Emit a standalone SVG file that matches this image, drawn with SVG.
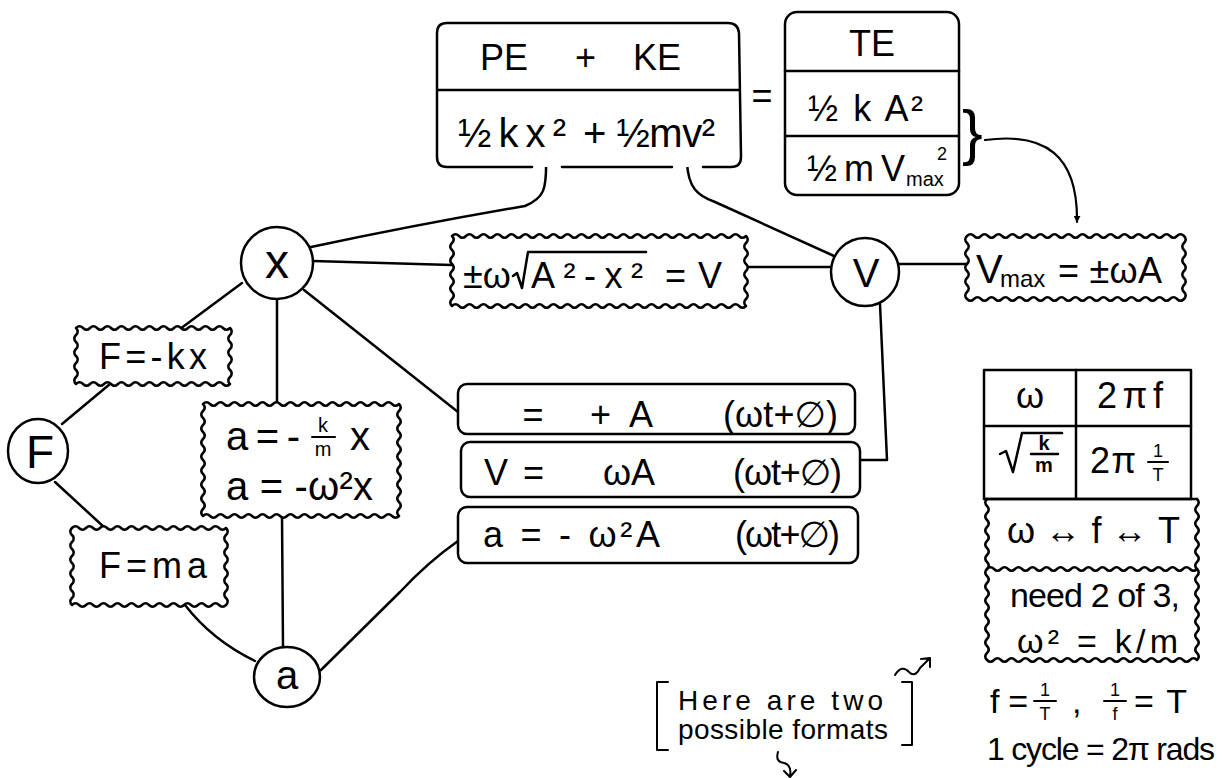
<svg xmlns="http://www.w3.org/2000/svg" width="1222" height="778" viewBox="0 0 1222 778">
<style>
.s{fill:none;stroke:#000;stroke-width:2.5;stroke-linecap:round;stroke-linejoin:round}
.b{fill:#fff;stroke:#000;stroke-width:2.5;stroke-linejoin:round}
text{font-family:"Liberation Sans","DejaVu Sans",sans-serif;fill:#000}
.f36{font-size:36px}.f40{font-size:40px}.f34{font-size:34px}.f20{font-size:20px}.f18{font-size:18px}.f24{font-size:24px}.f28{font-size:28px}
.m{text-anchor:middle}
</style>
<defs>
<marker id="arr" viewBox="0 0 10 10" refX="9" refY="5" markerWidth="7" markerHeight="7" orient="auto" markerUnits="userSpaceOnUse">
<path d="M0,0 L10,5 L0,10 z" fill="#000"/>
</marker>
</defs>
<rect width="1222" height="778" fill="#fff"/>

<g id="connectors" class="s">
<path d="M546,157 C547,190 544,198 525,206 Q420,224 311,247"/>
<path d="M687,162 C688,188 698,196 715,202 L834,256"/>
<path d="M313,261 L452,265"/>
<path d="M746,267 L832,267"/>
<path d="M898,264 L967,264"/>
<path d="M880,304 L887,460 L861,460"/>
<path d="M242,283 L180,329"/>
<path d="M110,384 L62,424"/>
<path d="M277,299 L277,404"/>
<path d="M304,290 L458,412"/>
<path d="M55,482 L105,528"/>
<path d="M185,605 Q212,640 255,661"/>
<path d="M282,516 L283,647"/>
<path d="M321,670 L400,592 Q428,562 458,541"/>
<path d="M985,140 C1045,132 1078,155 1077,222" marker-end="url(#arr)" style="stroke-width:2.2"/>
</g>

<g id="node-energy">
<rect x="437" y="23" width="303" height="144" rx="10" fill="#fff"/>
<path class="s" d="M532,167 L447,167 Q437,167 437,157 L437,33 Q437,23 447,23 L728,23 Q738,23 739,33 L741,157 Q741,167 731,167 L703,167 M562,167 L672,167 M437,90 L740,90"/>
<text class="f36"><tspan x="480" y="70">PE</tspan><tspan x="575" y="70">+</tspan><tspan x="633" y="70">KE</tspan></text>
<text class="f40" x="458" y="147" textLength="108" lengthAdjust="spacing">½kx²</text>
<text class="f40" x="583" y="147" textLength="132" lengthAdjust="spacing">+ ½mv²</text>
</g>

<text id="equals" class="f36 m" x="762" y="108">=</text>

<g id="node-te">
<rect class="b" x="785" y="12" width="174" height="183" rx="12"/>
<path class="s" d="M785,71 L959,71 M785,136 L959,136"/>
<text class="f36 m" x="872" y="56">TE</text>
<text class="f36" x="808" y="121" textLength="115" lengthAdjust="spacing">½ k A²</text>
<text class="f36" x="807" y="181" textLength="98" lengthAdjust="spacing">½ m V</text>
<text class="f20" x="906" y="186">max</text>
<text class="f18" x="937" y="160">2</text>
<text x="962" y="153" style="font-size:62px">}</text>
</g>

<g id="node-x">
<circle class="b" cx="277" cy="263" r="36"/>
<text class="m" x="277" y="278" style="font-size:48px">x</text>
</g>

<g id="node-v">
<circle class="b" cx="865" cy="272" r="34"/>
<text class="f40 m" x="866" y="287">V</text>
</g>

<g id="node-f">
<ellipse class="b" cx="38" cy="451" rx="30" ry="32"/>
<text class="m" x="40" y="468" style="font-size:46px">F</text>
</g>

<g id="node-a">
<ellipse class="b" cx="287" cy="677" rx="33" ry="30"/>
<text class="f40 m" x="287" y="689">a</text>
</g>

<g id="node-vel-eq">
<path class="b" d="M452,236 q3.5,-3.5 7,0 t
7,0 7,0 7,0 7,0 7,0 7,0 7,0 7,0 7,0 7,0
7,0 7,0 7,0 7,0 7,0 7,0 7,0 7,0 7,0 7,0
7,0 7,0 7,0 7,0 7,0 7,0 7,0 7,0 7,0 7,0
7,0 7,0 7,0 7,0 7,0 7,0 7,0 7,0 7,0 7,0
7,0
q3.5,3.5 0,7 t 0,7 0,7 0,7 0,7 0,7 0,7 0,7 0,7 0,7
q-3.5,3.5 -7,0 t
-7,0 -7,0 -7,0 -7,0 -7,0 -7,0 -7,0 -7,0 -7,0 -7,0
-7,0 -7,0 -7,0 -7,0 -7,0 -7,0 -7,0 -7,0 -7,0 -7,0
-7,0 -7,0 -7,0 -7,0 -7,0 -7,0 -7,0 -7,0 -7,0 -7,0
-7,0 -7,0 -7,0 -7,0 -7,0 -7,0 -7,0 -7,0 -7,0 -7,0
-7,0
q-3.5,-3.5 0,-7 t 0,-7 0,-7 0,-7 0,-7 0,-7 0,-7 0,-7 0,-7 0,-7 Z"/>
<text class="f36" x="463" y="288">±ω</text>
<path class="s" d="M513,276 L517,273 L522,288 L528,252 L646,252"/>
<text class="f36" x="531" y="288" textLength="112" lengthAdjust="spacing">A²-x²</text>
<text class="f36" x="665" y="288" textLength="57" lengthAdjust="spacing">= V</text>
</g>

<g id="node-vmax">
<path class="b" d="M967,236 q3.5,-3.5 7,0 t
7,0 7,0 7,0 7,0 7,0 7,0 7,0 7,0 7,0 7,0
7,0 7,0 7,0 7,0 7,0 7,0 7,0 7,0 7,0 7,0
7,0 7,0 7,0 7,0 7,0 7,0 7,0 7,0 7,0 7,0
q3.5,3.5 0,7 t 0,7 0,7 0,7 0,7 0,7 0,7 0,7 0,7
q-3.5,3.5 -7,0 t
-7,0 -7,0 -7,0 -7,0 -7,0 -7,0 -7,0 -7,0 -7,0 -7,0
-7,0 -7,0 -7,0 -7,0 -7,0 -7,0 -7,0 -7,0 -7,0 -7,0
-7,0 -7,0 -7,0 -7,0 -7,0 -7,0 -7,0 -7,0 -7,0 -7,0
q-3.5,-3.5 0,-7 t 0,-7 0,-7 0,-7 0,-7 0,-7 0,-7 0,-7 0,-7 Z"/>
<text class="f40" x="976" y="283">V</text>
<text class="f24" x="1000" y="287">max</text>
<text class="f36" x="1058" y="283" textLength="104" lengthAdjust="spacing">= ±ωA</text>
</g>

<g id="node-fkx">
<path class="b" d="M76,328 q3.5,-3.5 7,0 t
7,0 7,0 7,0 7,0 7,0 7,0 7,0 7,0 7,0 7,0
7,0 7,0 7,0 7,0 7,0 7,0 7,0 7,0 7,0 7,0
7,0
q3.5,3.5 0,7 t 0,7 0,7 0,7 0,7 0,7 0,7 0,7
q-3.5,3.5 -7,0 t
-7,0 -7,0 -7,0 -7,0 -7,0 -7,0 -7,0 -7,0 -7,0 -7,0
-7,0 -7,0 -7,0 -7,0 -7,0 -7,0 -7,0 -7,0 -7,0 -7,0
-7,0
q-3.5,-3.5 0,-7 t 0,-7 0,-7 0,-7 0,-7 0,-7 0,-7 0,-7 Z"/>
<text class="f36" x="99" y="369" textLength="108" lengthAdjust="spacing">F=-kx</text>
</g>

<g id="node-aeq">
<path class="b" d="M203,404 q3.5,-3.5 7,0 t
7,0 7,0 7,0 7,0 7,0 7,0 7,0 7,0 7,0 7,0
7,0 7,0 7,0 7,0 7,0 7,0 7,0 7,0 7,0 7,0
7,0 7,0 7,0 7,0 7,0 7,0 7,0
q3.5,3.5 0,7 t 0,7 0,7 0,7 0,7 0,7 0,7 0,7 0,7 0,7 0,7 0,7 0,7 0,7 0,7 0,7
q-3.5,3.5 -7,0 t
-7,0 -7,0 -7,0 -7,0 -7,0 -7,0 -7,0 -7,0 -7,0 -7,0
-7,0 -7,0 -7,0 -7,0 -7,0 -7,0 -7,0 -7,0 -7,0 -7,0
-7,0 -7,0 -7,0 -7,0 -7,0 -7,0 -7,0
q-3.5,-3.5 0,-7 t 0,-7 0,-7 0,-7 0,-7 0,-7 0,-7 0,-7 0,-7 0,-7 0,-7 0,-7 0,-7 0,-7 0,-7 0,-7 Z"/>
<text class="f40" x="226" y="450" textLength="74" lengthAdjust="spacing">a = -</text>
<text class="f20 m" x="323" y="432">k</text>
<path class="s" d="M312,437 L335,437" style="stroke-width:2"/>
<text class="f20 m" x="323" y="456">m</text>
<text class="f40" x="350" y="450">x</text>
<text class="f40" x="226" y="500" textLength="147" lengthAdjust="spacing">a = -ω²x</text>
</g>

<g id="node-fma">
<path class="b" d="M72,528 q3.5,-3.5 7,0 t
7,0 7,0 7,0 7,0 7,0 7,0 7,0 7,0 7,0 7,0
7,0 7,0 7,0 7,0 7,0 7,0 7,0 7,0 7,0 7,0
7,0
q3.5,3.5 0,7 t 0,7 0,7 0,7 0,7 0,7 0,7 0,7 0,7 0,7 0,7
q-3.5,3.5 -7,0 t
-7,0 -7,0 -7,0 -7,0 -7,0 -7,0 -7,0 -7,0 -7,0 -7,0
-7,0 -7,0 -7,0 -7,0 -7,0 -7,0 -7,0 -7,0 -7,0 -7,0
-7,0
q-3.5,-3.5 0,-7 t 0,-7 0,-7 0,-7 0,-7 0,-7 0,-7 0,-7 0,-7 0,-7 0,-7 Z"/>
<text class="f36" x="99" y="578" textLength="108" lengthAdjust="spacing">F=ma</text>
</g>

<g id="node-row-x">
<rect class="b" x="458" y="384" width="397" height="50" rx="9"/>
<text class="f36 m" x="533" y="427">=</text>
<text class="f36" x="590" y="427" textLength="63" lengthAdjust="spacing">+ A</text>
<text class="f36" x="723" y="427" textLength="115" lengthAdjust="spacing">(ωt+∅)</text>
</g>

<g id="node-row-v">
<rect class="b" x="461" y="442" width="399" height="55" rx="9"/>
<text class="f36" x="484" y="485" textLength="60" lengthAdjust="spacing">V =</text>
<text class="f36" x="603" y="485" textLength="52" lengthAdjust="spacing">ωA</text>
<text class="f36" x="733" y="485" textLength="109" lengthAdjust="spacing">(ωt+∅)</text>
</g>

<g id="node-row-a">
<rect class="b" x="458" y="507" width="400" height="56" rx="9"/>
<text class="f36" x="483" y="547" textLength="177" lengthAdjust="spacing">a = - ω²A</text>
<text class="f36" x="735" y="547" textLength="105" lengthAdjust="spacing">(ωt+∅)</text>
</g>

<g id="node-table">
<rect class="b" x="984" y="370" width="207" height="129"/>
<path class="s" d="M1076,370 L1076,499 M984,426 L1191,426 M984,499 L1197,499"/>
<text class="f36 m" x="1030" y="408">ω</text>
<text class="f36" x="1097" y="408" textLength="66" lengthAdjust="spacing">2πf</text>
<path class="s" d="M1000,454 L1006,451 L1013,472 L1022,433 L1062,433"/>
<text class="f20 m" x="1044" y="450" style="font-weight:bold">k</text>
<path class="s" d="M1031,454 L1058,454"/>
<text class="f20 m" x="1044" y="472" style="font-weight:bold">m</text>
<text class="f36" x="1090" y="473" textLength="46" lengthAdjust="spacing">2π</text>
<text class="f18 m" x="1158" y="457">1</text>
<path class="s" d="M1148,462 L1168,462" style="stroke-width:2"/>
<text class="f18 m" x="1158" y="481">T</text>
<path class="s" d="M987,499 q-3.5,3.5 0,7 t
0,7 0,7 0,7 0,7 0,7 0,7 0,7 0,7 0,7 0,7
0,7 0,7 0,7 0,7 0,7 0,7 0,7 0,7 0,7 0,7
0,7 0,7
q3.5,3.5 7,0 t
7,0 7,0 7,0 7,0 7,0 7,0 7,0 7,0 7,0 7,0
7,0 7,0 7,0 7,0 7,0 7,0 7,0 7,0 7,0 7,0
7,0 7,0 7,0 7,0 7,0 7,0 7,0 7,0 7,0
q3.5,-3.5 0,-7 t
0,-7 0,-7 0,-7 0,-7 0,-7 0,-7 0,-7 0,-7 0,-7 0,-7
0,-7 0,-7 0,-7 0,-7 0,-7 0,-7 0,-7 0,-7 0,-7 0,-7
0,-7 0,-7"/>
<path class="s" d="M987,569 q3.5,-3.5 7,0 t
7,0 7,0 7,0 7,0 7,0 7,0 7,0 7,0 7,0 7,0
7,0 7,0 7,0 7,0 7,0 7,0 7,0 7,0 7,0 7,0
7,0 7,0 7,0 7,0 7,0 7,0 7,0 7,0 7,0"/>
<text class="f36" x="1007" y="543" textLength="173" lengthAdjust="spacing">ω↔f↔T</text>
<text class="f34" x="1010" y="607" textLength="170" lengthAdjust="spacing">need 2 of 3,</text>
<text class="f34" x="1017" y="653" textLength="161" lengthAdjust="spacing">ω² = k/m</text>
</g>

<g id="note-periods">
<text class="f34" x="990" y="713" textLength="38" lengthAdjust="spacing">f =</text>
<text class="f18 m" x="1045" y="696">1</text>
<path class="s" d="M1034,701 L1056,701" style="stroke-width:2"/>
<text class="f18 m" x="1045" y="720">T</text>
<text class="f34" x="1072" y="713">,</text>
<text class="f18 m" x="1115" y="696">1</text>
<path class="s" d="M1104,701 L1126,701" style="stroke-width:2"/>
<text class="f18 m" x="1115" y="720">f</text>
<text class="f34" x="1134" y="713" textLength="53" lengthAdjust="spacing">= T</text>
<text style="font-size:32px" x="987" y="760" textLength="228" lengthAdjust="spacing">1 cycle = 2π rads</text>
</g>

<g id="note-formats">
<path class="s" d="M668,682 L657,682 L657,750 L668,750 M902,682 L912,682 L912,745 L902,745" style="stroke-width:2"/>
<text class="f28" x="678" y="710" textLength="205" lengthAdjust="spacing">Here are two</text>
<text class="f28" x="678" y="739" textLength="210" lengthAdjust="spacing">possible formats</text>
<path class="s" d="M895,675 Q902,664 909,672 Q915,678 920,668 L930,658 M921,659 L930,658 L930,667" style="stroke-width:2"/>
<path class="s" d="M778,752 Q775,762 784,763 Q792,765 790,776 M784,771 L790,777 L796,770" style="stroke-width:2"/>
</g>
</svg>
